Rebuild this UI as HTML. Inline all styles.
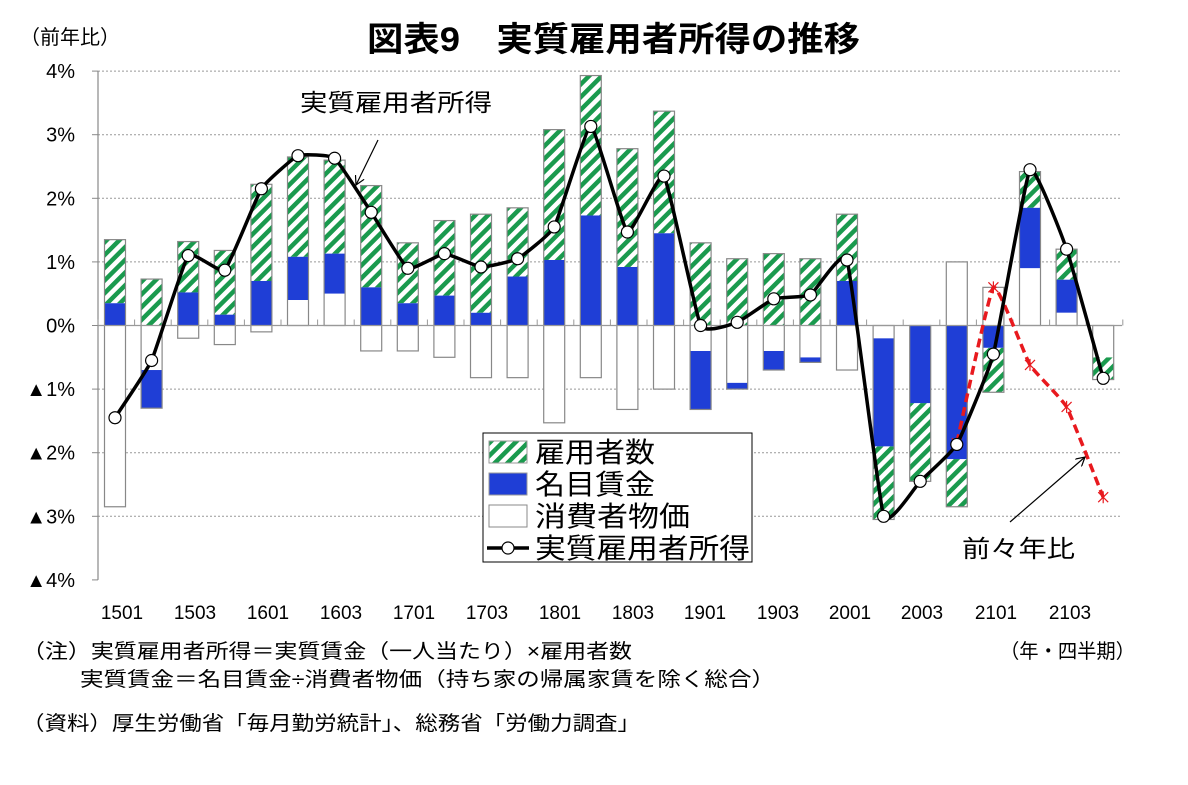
<!DOCTYPE html>
<html><head><meta charset="utf-8"><style>
body{margin:0;background:#fff;}
svg text{font-family:"Liberation Sans","Noto Sans CJK JP",sans-serif;fill:#000;}
</style></head><body>
<svg id="s" width="1188" height="780" xmlns="http://www.w3.org/2000/svg">
<defs>
<pattern id="h" patternUnits="userSpaceOnUse" width="9" height="9" patternTransform="rotate(45)">
<rect width="9" height="9" fill="#fff"/><rect width="4.5" height="9" fill="#1a9a4e"/>
</pattern>
<marker id="ar" markerWidth="10" markerHeight="10" refX="9" refY="5" orient="auto" markerUnits="userSpaceOnUse"><path d="M0,0 L9,5 L0,10" fill="none" stroke="#000" stroke-width="1.2"/></marker>
</defs>
<text x="367" y="51" font-size="34" font-weight="bold" textLength="493" lengthAdjust="spacingAndGlyphs">図表9　実質雇用者所得の推移</text>
<text x="20" y="44" font-size="20" textLength="100" lengthAdjust="spacingAndGlyphs">（前年比）</text>
<g id="grid"></g>
<g id="bars"></g>
<g id="lines"></g>
<text x="300" y="111" font-size="24" textLength="192" lengthAdjust="spacingAndGlyphs">実質雇用者所得</text>
<line x1="378" y1="140" x2="356" y2="185" stroke="#000" stroke-width="1.2" marker-end="url(#ar)"/>
<text x="962" y="557" font-size="24" textLength="113" lengthAdjust="spacingAndGlyphs">前々年比</text>
<line x1="1010" y1="522" x2="1085" y2="457" stroke="#000" stroke-width="1.2" marker-end="url(#ar)"/>
<rect x="483" y="433" width="269" height="129" fill="#fff" stroke="#000" stroke-width="1"/>
<rect x="489" y="441" width="38" height="22" fill="url(#h)" stroke="#999"/>
<text x="535" y="462" font-size="28" textLength="120" lengthAdjust="spacingAndGlyphs">雇用者数</text>
<rect x="489" y="473" width="38" height="22" fill="#1f3ed6" stroke="#999"/>
<text x="535" y="494" font-size="28" textLength="120" lengthAdjust="spacingAndGlyphs">名目賃金</text>
<rect x="489" y="505" width="38" height="22" fill="#fff" stroke="#888"/>
<text x="535" y="526" font-size="28" textLength="155" lengthAdjust="spacingAndGlyphs">消費者物価</text>
<line x1="487" y1="548" x2="529" y2="548" stroke="#000" stroke-width="3.5"/>
<circle cx="508" cy="548" r="6" fill="#fff" stroke="#000" stroke-width="1.2"/>
<text x="535" y="558" font-size="28" textLength="215" lengthAdjust="spacingAndGlyphs">実質雇用者所得</text>
<g font-size="20">
<text x="22" y="658" textLength="610" lengthAdjust="spacingAndGlyphs">（注）実質雇用者所得＝実質賃金（一人当たり）×雇用者数</text>
<text x="80" y="686" textLength="695" lengthAdjust="spacingAndGlyphs">実質賃金＝名目賃金÷消費者物価（持ち家の帰属家賃を除く総合）</text>
<text x="22" y="730" textLength="618" lengthAdjust="spacingAndGlyphs">（資料）厚生労働省「毎月勤労統計」、総務省「労働力調査」</text>
<text x="1000" y="658" textLength="135" lengthAdjust="spacingAndGlyphs">（年・四半期）</text>
</g>
</svg>
<script>
const NS="http://www.w3.org/2000/svg";
function el(p,t,a,txt){const e=document.createElementNS(NS,t);for(const k in a)e.setAttribute(k,a[k]);if(txt!==undefined)e.textContent=txt;p.appendChild(e);return e;}
const Y=v=>325.5-63.6*v, X=i=>115+36.6*i;
const g=document.getElementById('grid');
const lab={4:'4%',3:'3%',2:'2%',1:'1%',0:'0%','-1':'▲1%','-2':'▲2%','-3':'▲3%','-4':'▲4%'};
for(let v=4;v>=-4;v--){
 if(v!==0&&v!==-4) el(g,'line',{x1:98,x2:1122,y1:Y(v),y2:Y(v),stroke:'#999','stroke-dasharray':'2,2','stroke-width':1});
 el(g,'line',{x1:92,x2:98,y1:Y(v),y2:Y(v),stroke:'#888'});
 el(g,'text',{x:75,y:Y(v)+7,'text-anchor':'end','font-size':20},lab[v]);
}
el(g,'line',{x1:98,x2:98,y1:Y(4),y2:Y(-4),stroke:'#888','stroke-width':1.2});
const xl=[['1501',122],['1503',195],['1601',268],['1603',341],['1701',414],['1703',487],['1801',560],['1803',633],['1901',705],['1903',778],['2001',850],['2003',922],['2101',996],['2103',1070]];
xl.forEach(([t,x])=>el(g,'text',{x:x,y:619,'text-anchor':'middle','font-size':19},t));
const D=[
[[.35,1.35],[0,.35],[0,-2.85]],
[[0,.73],[-.7,-1.3],[0,-.7]],
[[.52,1.32],[0,.52],[0,-.2]],
[[.17,1.18],[0,.17],[0,-.3]],
[[.7,2.22],[0,.7],[0,-.1]],
[[1.08,2.65],[.4,1.08],[0,.4]],
[[1.13,2.6],[.5,1.13],[0,.5]],
[[.6,2.2],[0,.6],[0,-.4]],
[[.35,1.3],[0,.35],[0,-.4]],
[[.47,1.65],[0,.47],[0,-.5]],
[[.2,1.75],[0,.2],[0,-.82]],
[[.77,1.85],[0,.77],[0,-.82]],
[[1.03,3.08],[0,1.03],[0,-1.53]],
[[1.73,3.93],[0,1.73],[0,-.82]],
[[.92,2.78],[0,.92],[0,-1.32]],
[[1.45,3.37],[0,1.45],[0,-1.0]],
[[0,1.3],[-.4,-1.32],[0,-.4]],
[[0,1.05],[-.9,-1.0],[0,-.9]],
[[0,1.13],[-.4,-.7],[0,-.4]],
[[0,1.05],[-.5,-.58],[0,-.5]],
[[.7,1.75],[0,.7],[0,-.7]],
[[-1.9,-3.05],[-.2,-1.9],[0,-.2]],
[[-1.22,-2.45],[0,-1.22],[0,0]],
[[-2.1,-2.85],[0,-2.1],[0,1.0]],
[[-.35,-1.05],[0,-.35],[0,.6]],
[[1.85,2.42],[.9,1.85],[0,.9]],
[[.72,1.2],[.2,.72],[0,.2]],
[[-.5,-.85],[0,0],[0,-.5]]];
const L=[-1.45,-.55,1.1,.87,2.15,2.67,2.63,1.78,.9,1.13,.92,1.05,1.55,3.13,1.47,2.35,0,.05,.42,.48,1.03,-3.0,-2.45,-1.87,-.45,2.45,1.2,-.83];
const b=document.getElementById('bars');
const fills=['url(#h)','#1f3ed6','#fff'];
D.forEach((d,i)=>{
 const x=X(i)-10.5;
 let lo=0,hi=0;
 d.forEach(([a,c],k)=>{lo=Math.min(lo,a,c);hi=Math.max(hi,a,c);
  if(a===c)return;
  el(b,'rect',{x:x,y:Y(Math.max(a,c)),width:21,height:Math.abs(a-c)*63.6,fill:fills[k],stroke:'none'});});
 el(b,'rect',{x:x,y:Y(hi),width:21,height:(hi-lo)*63.6,fill:'none',stroke:'#888','stroke-width':1.2});
});
el(b,'line',{x1:98,x2:1122,y1:Y(0),y2:Y(0),stroke:'#999','stroke-width':1.2});
for(let i=0;i<=28;i++){const x=98+36.6*i;el(b,'line',{x1:x,x2:x,y1:Y(0)-6,y2:Y(0),stroke:'#999'});}
function smooth(pts){let d=`M${pts[0][0]},${pts[0][1]}`;const t=0.06;
 for(let i=0;i<pts.length-1;i++){const p0=pts[Math.max(0,i-1)],p1=pts[i],p2=pts[i+1],p3=pts[Math.min(pts.length-1,i+2)];
  d+=` C${p1[0]+(p2[0]-p0[0])*t},${p1[1]+(p2[1]-p0[1])*t} ${p2[0]-(p3[0]-p1[0])*t},${p2[1]-(p3[1]-p1[1])*t} ${p2[0]},${p2[1]}`;}
 return d;}
const ln=document.getElementById('lines');
const R=[[23,-1.85],[24,.6],[25,-.62],[26,-1.28],[27,-2.7]].map(([i,v])=>[X(i),Y(v)]);
el(ln,'path',{d:smooth(R),fill:'none',stroke:'#e8191e','stroke-width':3.5,'stroke-dasharray':'9,5'});
R.forEach(([x,y])=>{el(ln,'path',{d:`M${x-5},${y-5}L${x+5},${y+5}M${x-5},${y+5}L${x+5},${y-5}M${x},${y-6}L${x},${y+6}`,stroke:'#e8191e','stroke-width':1.2});});
const P=L.map((v,i)=>[X(i),Y(v)]);
el(ln,'path',{d:smooth(P),fill:'none',stroke:'#000','stroke-width':3.5});
P.forEach(([x,y])=>el(ln,'circle',{cx:x,cy:y,r:6,fill:'#fff',stroke:'#000','stroke-width':1.2}));
</script>
</body></html>
